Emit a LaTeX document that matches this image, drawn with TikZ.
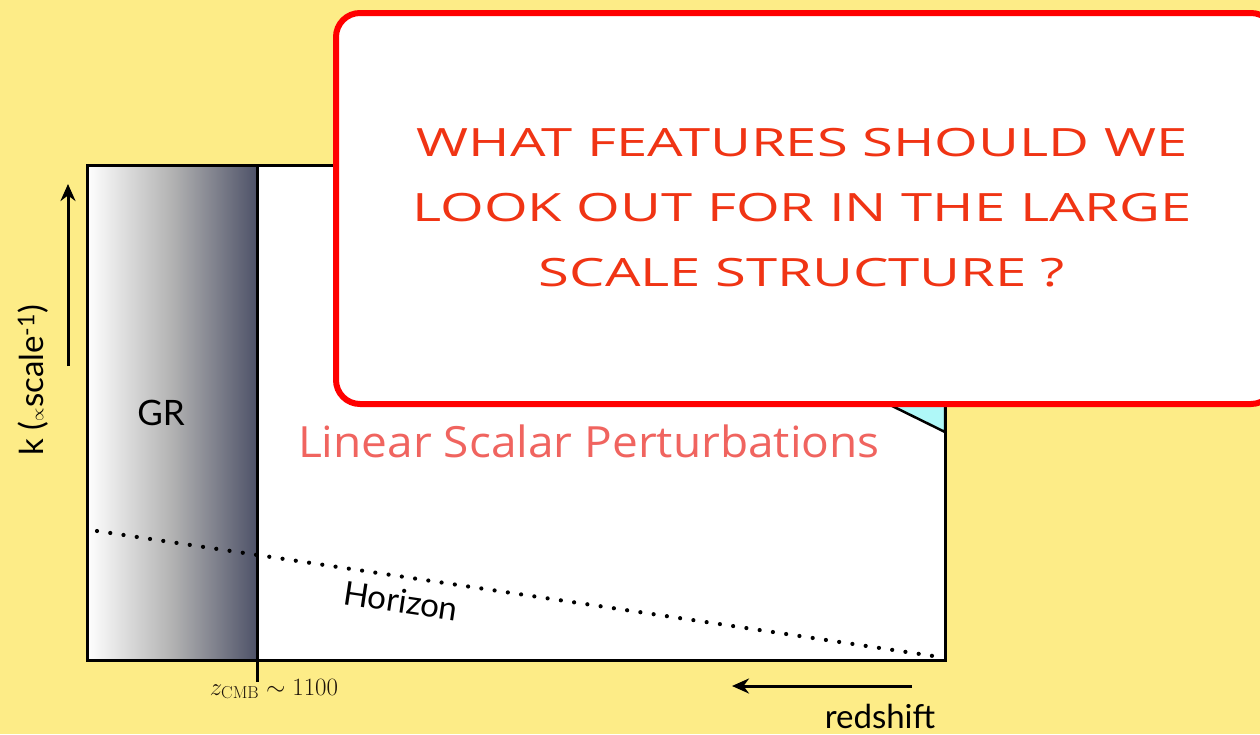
\documentclass[tikz,border=0pt]{standalone}
\usepackage[no-math]{fontspec}
\usepackage{graphicx}
\setmainfont{Lato}
\newfontfamily\handfont{Open Sans}
\usetikzlibrary{arrows.meta,decorations.pathmorphing}
\definecolor{bgyellow}{RGB}{253,236,135}
\definecolor{grdark}{RGB}{78,82,104}
\definecolor{qred}{RGB}{240,52,20}
\definecolor{lred}{RGB}{240,100,95}
\definecolor{cyanfill}{RGB}{175,248,248}
\tikzset{
  axisline/.style={line width=3pt, black},
  axisarrow/.style={line width=3pt, black, -{Stealth[length=17pt,width=15pt]}},
  horizonline/.style={line width=4.2pt, line cap=round, dash pattern=on 0pt off 13.4pt},
  lbl/.style={font=\fontsize{33}{36}\selectfont, inner sep=0pt},
  redbox/.style={draw=red, line width=6pt, fill=white, rounded corners=24pt},
}
\begin{document}
\begin{tikzpicture}[x=1pt,y=-1pt]
\fill[bgyellow] (0,0) rectangle (1260,734);
\useasboundingbox (0,0) rectangle (1260,734);
% plot area
\coordinate (pTL) at (87,165);
\coordinate (pBR) at (945,660);
\coordinate (zTop) at (257,165);
\coordinate (zBot) at (257,682);
\fill[white] (pTL) rectangle (pBR);
\shade[left color=white, right color=grdark, middle color=black!30!white] (87,165) rectangle (257,660);
% hidden triangle corner
\filldraw[fill=cyanfill, draw=black, line width=2.5pt] (880,400) -- (945,432) -- (945,400) -- cycle;
\draw[axisline] (pTL) rectangle (pBR);
\draw[axisline] (zTop) -- (zBot);
% horizon
\coordinate (hA) at (97,531);
\coordinate (hB) at (940,657);
\draw[horizonline] (hA) -- (hB);
% axis arrows
\coordinate (kA) at (68,366);
\coordinate (kB) at (68,184);
\draw[axisarrow] (kA) -- (kB);
\coordinate (rA) at (912,686);
\coordinate (rB) at (732,686);
\draw[axisarrow] (rA) -- (rB);
% labels
\node[lbl, font=\fontsize{35}{38}\selectfont] (gr) at (161,413) {GR};
\node[lbl, rotate=-8.5] (hor) at (401,601) {Horizon};
\node[lbl, rotate=90] (klab) at (33,380) {k ({\fontsize{18}{18}\selectfont$\propto$}scale\textsuperscript{-1})};
\node[lbl] (red) at (880,716) {redshift};
\node[inner sep=0pt, text=black!85!brown, font=\fontsize{27}{29}\selectfont] (zcmb) at (274,689) {$z_{\mathrm{CMB}}\sim 1100$};
% overlay box
\draw[redbox] (336,13) rectangle (1275,404);
\node[align=center, text=qred, inner sep=0pt, font=\handfont\fontsize{39}{65}\selectfont] (q) at (802,208)
  {\scalebox{1.44}[1]{WHAT FEATURES SHOULD WE}\\
   \scalebox{1.44}[1]{LOOK OUT FOR IN THE LARGE}\\
   \scalebox{1.44}[1]{SCALE STRUCTURE ?}};
\node[text=lred, inner sep=0pt, font=\handfont\fontsize{43}{45}\selectfont] (lsp) at (589,441)
  {\scalebox{1.07}[1]{Linear Scalar Perturbations}};
\end{tikzpicture}
\end{document}
